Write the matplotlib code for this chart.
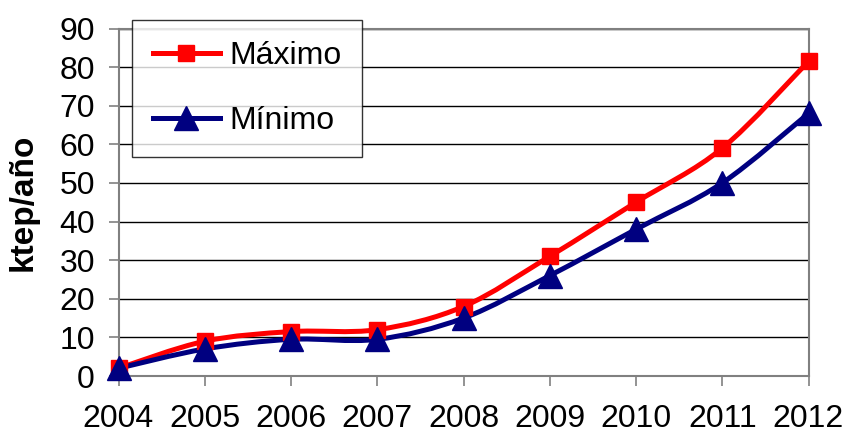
import matplotlib.pyplot as plt
from matplotlib.path import Path
from matplotlib.patches import PathPatch
from matplotlib.lines import Line2D

years = [2004, 2005, 2006, 2007, 2008, 2009, 2010, 2011, 2012]
maximo = [2, 9, 11.5, 12, 18, 31, 45, 59, 81.5]
minimo = [2, 7, 9.5, 9.5, 15, 26, 38, 50, 68]

plt.rcParams['font.family'] = ['Liberation Sans', 'DejaVu Sans']


def smooth_path(xs, ys):
    # curva suavizada tipo Excel (Catmull-Rom a Bezier)
    n = len(xs)
    verts = [(xs[0], ys[0])]
    codes = [Path.MOVETO]
    for i in range(n - 1):
        x0, y0 = (xs[i - 1], ys[i - 1]) if i > 0 else (xs[i], ys[i])
        x1, y1 = xs[i], ys[i]
        x2, y2 = xs[i + 1], ys[i + 1]
        x3, y3 = (xs[i + 2], ys[i + 2]) if i + 2 < n else (x2, y2)
        c1 = (x1 + (x2 - x0) / 6, y1 + (y2 - y0) / 6)
        c2 = (x2 - (x3 - x1) / 6, y2 - (y3 - y1) / 6)
        verts += [c1, c2, (x2, y2)]
        codes += [Path.CURVE4] * 3
    return Path(verts, codes)


fig = plt.figure(figsize=(8.46, 4.34), dpi=100)
ax = fig.add_axes([118.5 / 846, 1 - 376 / 434, 690 / 846, 347.5 / 434])

series = [(maximo, "#FF0000", "s", 11, "Máximo"), (minimo, "#000080", "^", 17, "Mínimo")]
handles = []
for vals, col, mk, ms, lab in series:
    ax.add_patch(PathPatch(smooth_path(years, vals), facecolor="none", edgecolor=col,
                           lw=3.6, zorder=3, clip_on=False, capstyle="round"))
    ax.plot(years, vals, linestyle="none", marker=mk, markersize=ms, color=col,
            zorder=4, clip_on=False)
    handles.append(Line2D([], [], color=col, lw=3.6, marker=mk, markersize=ms, label=lab))

ax.set_xlim(2004, 2012)
ax.set_ylim(0, 90)
ax.set_xticks(years)
ax.set_yticks(range(0, 91, 10))
ax.tick_params(axis="both", labelsize=23, color="#808080", width=1.2)
ax.tick_params(axis="x", length=7, pad=13)
ax.tick_params(axis="y", length=7, pad=10)
ax.yaxis.grid(True, color="black", lw=1)
ax.set_axisbelow(True)
for s in ax.spines.values():
    s.set_color("#808080")
    s.set_linewidth(1.5)
ax.set_ylabel("ktep/año", fontsize=24, fontweight="bold", labelpad=15)

leg = fig.legend(handles=handles, loc="upper left", bbox_to_anchor=(132 / 846, 1 - 20 / 434),
                 fontsize=23, frameon=True, fancybox=False, borderaxespad=0,
                 labelspacing=1.1, handlelength=2.1, handletextpad=0.3, borderpad=0.65)
leg.get_frame().set_edgecolor("black")
leg.get_frame().set_linewidth(1)

fig.savefig("out.png", dpi=100)
